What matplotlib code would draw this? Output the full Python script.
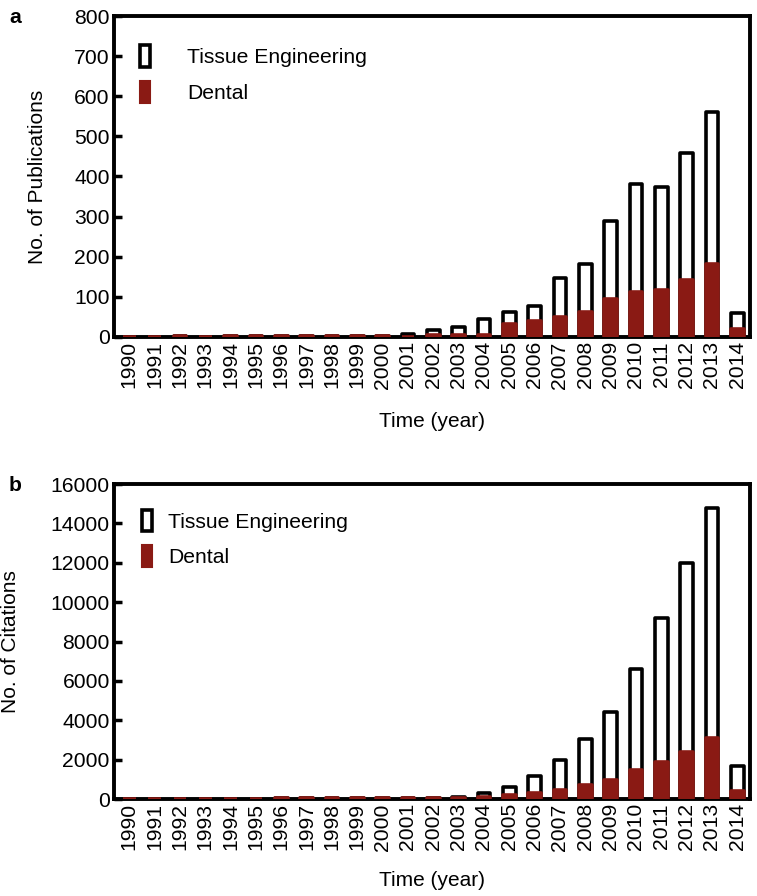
import matplotlib
matplotlib.use("Agg")
import matplotlib.pyplot as plt
from matplotlib.patches import Patch

plt.rcParams['font.family'] = ['Liberation Sans', 'DejaVu Sans']

years = list(range(1990, 2015))
year_labels = [str(y) for y in years]

pub_te = [0, 0, 3, 0, 2, 3, 3, 3, 2, 3, 3, 8, 18, 25, 45, 63, 78, 147, 183, 290, 382, 374, 459, 561, 60]
pub_dental = [0, 0, 3, 0, 2, 3, 3, 3, 2, 3, 3, 0, 5, 4, 5, 32, 40, 49, 63, 95, 112, 118, 141, 181, 20]

cit_te = [0, 0, 10, 10, 20, 20, 40, 40, 40, 40, 40, 40, 40, 120, 290, 600, 1160, 2000, 3060, 4400, 6600, 9180, 11970, 14800, 1680]
cit_dental = [0, 0, 10, 10, 20, 20, 40, 40, 40, 40, 40, 40, 40, 70, 120, 200, 290, 450, 700, 950, 1450, 1900, 2380, 3120, 430]

RED = '#8a1a14'
FS = 15.2
FS_LAB = 15

fig = plt.figure(figsize=(7.57, 8.96), dpi=100)
W, H = 757, 896

def make_ax(top_px, bot_px):
    return fig.add_axes([114 / W, 1 - bot_px / H, (750 - 114) / W, (bot_px - top_px) / H])

def draw(ax, te, dental, ymax, ystep, ylabel, letter, leg_pad, ylabel_x, leg_x, leg_y, xlab_pad):
    x = list(range(len(years)))
    ax.bar(x, te, width=0.5, facecolor='white', edgecolor='black', linewidth=2.6,
           joinstyle='round', zorder=2)
    ax.bar(x, dental, width=0.5, facecolor=RED, edgecolor=RED, linewidth=2.6,
           joinstyle='round', zorder=3)
    ax.set_xlim(-0.6, len(years) - 0.5)
    ax.set_ylim(0, ymax)
    ax.set_yticks(range(0, ymax + 1, ystep))
    ax.set_xticks(x)
    ax.set_xticklabels(year_labels, rotation=90, fontsize=FS)
    ax.tick_params(axis='x', length=0, pad=3)
    ax.tick_params(axis='y', direction='in', length=6, width=2.5, labelsize=FS, pad=3)
    for s in ax.spines.values():
        s.set_linewidth(2.8)
    ax.set_xlabel('Time (year)', fontsize=FS_LAB, labelpad=xlab_pad)
    ax.set_ylabel(ylabel, fontsize=FS_LAB)
    ax.yaxis.set_label_coords(ylabel_x, 0.5)
    handles = [Patch(facecolor='white', edgecolor='black', linewidth=2.6, joinstyle='round'),
               Patch(facecolor=RED, edgecolor=RED, linewidth=1.5, joinstyle='round')]
    ax.legend(handles, ['Tissue Engineering', 'Dental'], loc='upper left', frameon=False,
              fontsize=FS, handlelength=0.5, handleheight=1.2, handletextpad=leg_pad,
              labelspacing=0.65, borderaxespad=0.0, bbox_to_anchor=(leg_x, leg_y))
    ax.text(-0.165, 0.995, letter, transform=ax.transAxes,
            fontsize=FS, fontweight='bold', va='center', ha='left')

ax1 = make_ax(16, 337)
draw(ax1, pub_te, pub_dental, 800, 100, 'No. of Publications', 'a', 1.75, -0.105, 0.027, 0.935, 17)

ax2 = make_ax(484, 799)
draw(ax2, cit_te, cit_dental, 16000, 2000, 'No. of Citations', 'b', 0.75, -0.148, 0.03, 0.945, 15)

fig.savefig('out.png', dpi=100)
